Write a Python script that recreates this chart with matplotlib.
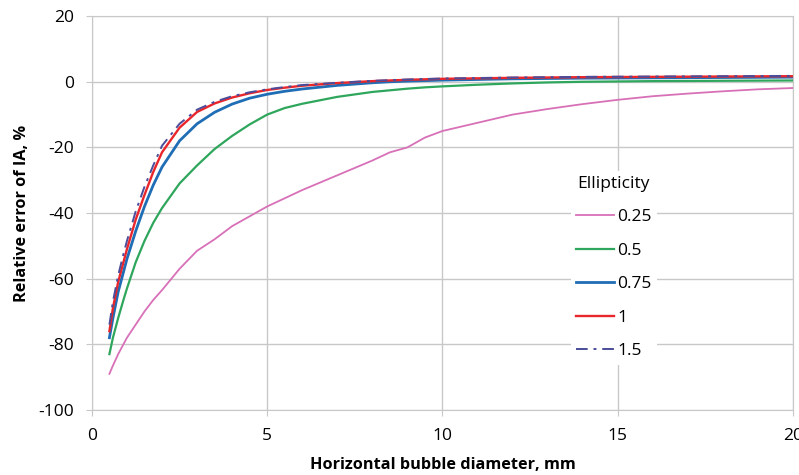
import matplotlib
matplotlib.use("Agg")
import matplotlib.pyplot as plt

x = [0.5, 0.6, 0.75, 0.9, 1.0, 1.25, 1.5, 1.75, 2.0, 2.5, 3.0, 3.5, 4.0, 4.5, 5.0, 5.5, 6.0,
     7.0, 8.0, 8.5, 9.0, 9.5, 10.0, 11.0, 12.0, 13.0, 14.0, 15.0, 16.0, 17.0, 18.0, 19.0, 20.0]
e025 = [-89, -86.5, -83, -80, -78, -74, -70, -66.5, -63.5, -57, -51.5, -48, -44, -41, -38, -35.5, -33,
        -28.5, -24, -21.5, -20, -17, -15, -12.5, -10, -8.3, -6.8, -5.5, -4.4, -3.6, -2.9, -2.3, -1.9]
e05 = [-83, -78, -72, -66.5, -63, -55, -48.5, -43, -38.5, -31, -25.5, -20.5, -16.5, -13, -10, -8, -6.7,
       -4.6, -3.1, -2.6, -2.1, -1.7, -1.4, -0.9, -0.5, -0.2, 0.0, 0.1, 0.2, 0.25, 0.3, 0.35, 0.4]
e075 = [-78, -72, -64, -58, -54, -45.5, -38, -31.5, -26, -18, -12.8, -9.3, -6.8, -5, -3.8, -2.9, -2.2,
        -1.1, -0.3, 0.0, 0.2, 0.35, 0.5, 0.7, 0.9, 1.0, 1.1, 1.15, 1.2, 1.25, 1.3, 1.35, 1.4]
e1 = [-76, -69, -61, -55, -51, -42, -34.5, -27.5, -21.5, -14, -9.2, -6.6, -4.8, -3.5, -2.5, -1.8, -1.2,
      -0.4, 0.2, 0.4, 0.6, 0.75, 0.9, 1.05, 1.2, 1.3, 1.4, 1.45, 1.5, 1.55, 1.6, 1.65, 1.7]
e15 = [-74, -67, -59, -52.5, -48.5, -39.5, -32, -25.5, -19.5, -12.8, -8.5, -6.1, -4.4, -3.2, -2.3, -1.6, -1.0,
       -0.3, 0.3, 0.5, 0.7, 0.85, 1.0, 1.15, 1.3, 1.4, 1.5, 1.55, 1.6, 1.65, 1.7, 1.75, 1.8]
labels = ["0.25", "0.5", "0.75", "1", "1.5"]
xticks = [0, 5, 10, 15, 20]
yticks = [-100, -80, -60, -40, -20, 0, 20]

plt.rcParams['font.family'] = ['Open Sans', 'DejaVu Sans']
plt.rcParams['axes.unicode_minus'] = False
fig = plt.figure(figsize=(7.99, 4.75), dpi=100)
ax = fig.add_axes([0.115, 0.137, 0.8775, 0.829])

ax.plot(x, e025, color='#d870b8', lw=1.3, label=labels[0])
ax.plot(x, e05, color='#2ea65c', lw=1.6, label=labels[1])
ax.plot(x, e075, color='#1f6db5', lw=2.0, label=labels[2])
ax.plot(x, e1, color='#e8262b', lw=1.7, label=labels[3])
ax.plot(x, e15, color='#4b4c9a', lw=1.4, ls=(0, (6, 3, 1.5, 3)), label=labels[4])

ax.set_xlim(0, 20)
ax.set_ylim(-100, 20)
ax.set_xticks(xticks)
ax.set_yticks(yticks)
ax.grid(True, color='#c8c8c8', lw=1.0)
ax.set_axisbelow(True)
for s in ax.spines.values():
    s.set_color('#c8c8c8')
ax.tick_params(axis='both', length=4, color='#c8c8c8', labelsize=12.5)
ax.tick_params(axis='x', pad=9)
ax.tick_params(axis='y', pad=9)
ax.set_xlabel('Horizontal bubble diameter, mm', fontsize=11.7, fontweight='bold', labelpad=9.5)
ax.set_ylabel('Relative error of IA, %', fontsize=11.7, fontweight='bold', labelpad=6)

leg = ax.legend(title='Ellipticity', loc='upper left', bbox_to_anchor=(0.671, 0.63),
                frameon=True, fontsize=12.5, title_fontsize=12.5, handlelength=2.2,
                handletextpad=0.15, labelspacing=1.0, borderpad=0.3)
leg.get_frame().set_edgecolor('none')
leg.get_frame().set_facecolor('white')
leg.get_frame().set_alpha(1.0)

fig.savefig('out.png', dpi=100)
